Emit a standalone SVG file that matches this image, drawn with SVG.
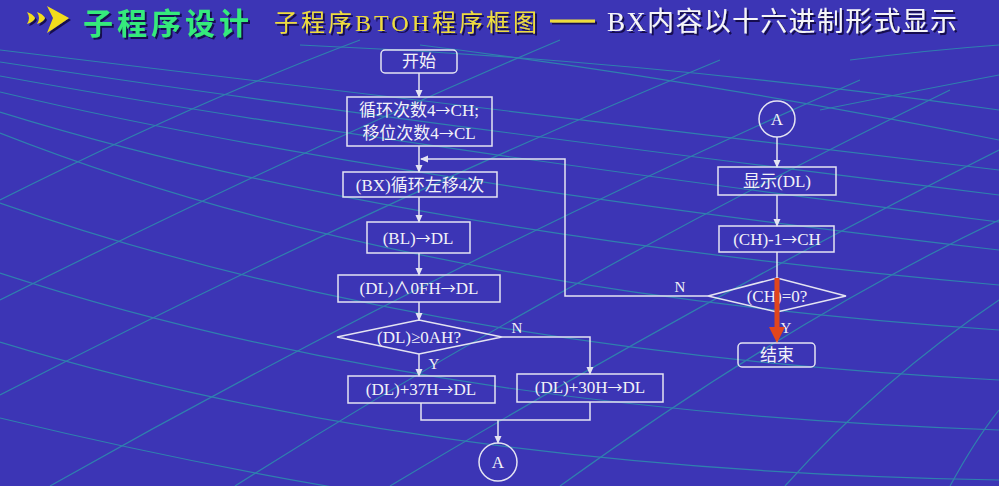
<svg xmlns="http://www.w3.org/2000/svg" width="999" height="486" viewBox="0 0 999 486">
<defs>
<style>
.bx{fill:none;stroke:#e4e4f2;stroke-width:1.5}
.ln{fill:none;stroke:#e4e4f2;stroke-width:1.5}
.t{font-family:"Liberation Serif","Noto Sans CJK SC",serif;font-size:17px;fill:#f2f2f8;text-anchor:middle}
.ar{font-family:"Noto Sans CJK SC",sans-serif;font-size:15px}
.lb{font-family:"Liberation Serif","Noto Sans CJK SC",serif;font-size:15px;fill:#f2f2f8;text-anchor:middle}
.g{fill:none;stroke:#2f80ae;stroke-width:1.2}
</style>
<filter id="sh" x="-5%" y="-20%" width="110%" height="150%">
<feDropShadow dx="2" dy="2" stdDeviation="0.6" flood-color="#141050" flood-opacity="1"/>
</filter>
<marker id="ah" markerWidth="8" markerHeight="8" refX="7" refY="4" orient="auto" markerUnits="userSpaceOnUse">
<path d="M0,0.5 L8,4 L0,7.5 z" fill="#e4e4f2"/>
</marker>
</defs>
<rect width="999" height="486" fill="#3c35b5"/>
<g id="mesh">
<path class="g" d="M0,50 Q350,90 999,170"/>
<path class="g" d="M0,62 Q350,115 999,195"/>
<path class="g" d="M0,76 Q350,140 999,222"/>
<path class="g" d="M0,92 Q350,175 999,250"/>
<path class="g" d="M0,112 Q380,230 999,285"/>
<path class="g" d="M0,133 Q400,290 999,330"/>
<path class="g" d="M0,203 Q420,350 999,380"/>
<path class="g" d="M0,273 Q420,410 999,430"/>
<path class="g" d="M0,342 Q420,470 999,480"/>
<path class="g" d="M0,418 Q300,490 560,520"/>
<path class="g" d="M300,45 Q650,60 999,110"/>
<path class="g" d="M420,45 Q700,80 999,140"/>
<path class="g" d="M0,200 Q200,100 360,40"/>
<path class="g" d="M0,300 Q300,150 560,40"/>
<path class="g" d="M0,395 Q380,200 720,60"/>
<path class="g" d="M50,486 Q450,260 860,80"/>
<path class="g" d="M235,486 Q560,280 950,90"/>
<path class="g" d="M390,486 Q700,300 999,150"/>
<path class="g" d="M560,486 Q790,320 999,220"/>
<path class="g" d="M785,486 Q880,380 999,300"/>
<path class="g" d="M950,486 Q975,440 999,410"/>
<path class="g" d="M850,60 Q930,50 999,45"/>
<path class="g" d="M820,110 Q920,90 999,75"/>
</g>
<g id="title" filter="url(#sh)">
<path d="M27,12 Q33,14 35,18 Q33,22 27,24 Q31,18 27,12 z" fill="#f2dc1e"/>
<path d="M37,12 Q43,14 45,18 Q43,22 37,24 Q41,18 37,12 z" fill="#f2dc1e"/>
<path d="M47,6 L69,18 L47,33 L53,18 z" fill="#f2dc1e"/>
<text x="83" y="34" font-family="Noto Sans CJK SC, sans-serif" font-size="30" font-weight="bold" fill="#36ea7c" textLength="166">子程序设计</text>
<text x="274" y="31" font-family="Liberation Serif, Noto Sans CJK SC, serif" font-size="24" fill="#eedc3c" textLength="263">子程序BTOH程序框图</text>
<line x1="550" y1="21" x2="595" y2="21" stroke="#eedc3c" stroke-width="3"/>
<text x="607" y="31" font-family="Liberation Serif, Noto Sans CJK SC, serif" font-size="27" fill="#f5f5f8" textLength="350">BX内容以十六进制形式显示</text>
</g>
<g id="connectors">
<line class="ln" x1="419" y1="73" x2="419" y2="97" marker-end="url(#ah)"/>
<line class="ln" x1="419" y1="146" x2="419" y2="172" marker-end="url(#ah)"/>
<path class="ln" d="M708,296 H565 V159 H421" marker-end="url(#ah)"/>
<line class="ln" x1="419" y1="197" x2="419" y2="222" marker-end="url(#ah)"/>
<line class="ln" x1="419" y1="253" x2="419" y2="275" marker-end="url(#ah)"/>
<line class="ln" x1="419" y1="302" x2="419" y2="320" marker-end="url(#ah)"/>
<line class="ln" x1="419" y1="354" x2="419" y2="376" marker-end="url(#ah)"/>
<path class="ln" d="M502,337 H590 V374" marker-end="url(#ah)"/>
<path class="ln" d="M421,403 V420 H590 V402"/>
<line class="ln" x1="498" y1="420" x2="498" y2="443" marker-end="url(#ah)"/>
<line class="ln" x1="777" y1="137" x2="777" y2="167" marker-end="url(#ah)"/>
<line class="ln" x1="777" y1="195" x2="777" y2="226" marker-end="url(#ah)"/>
<line class="ln" x1="777" y1="252" x2="777" y2="278"/>
<line class="ln" x1="777" y1="312" x2="777" y2="343"/>
<text class="lb" x="517" y="333">N</text>
<text class="lb" x="434" y="369">Y</text>
<text class="lb" x="680" y="292">N</text>
<text class="lb" x="786" y="333">Y</text>
</g>
<g id="n-start"><rect class="bx" x="381" y="50" width="76" height="23" rx="4"/><text class="t" x="419" y="67">开始</text></g>
<g id="n-init"><rect class="bx" x="347" y="97" width="145" height="49"/><text class="t" x="419" y="116">循环次数4<tspan class="ar">→</tspan>CH;</text><text class="t" x="419" y="139">移位次数4<tspan class="ar">→</tspan>CL</text></g>
<g id="n-rot"><rect class="bx" x="343" y="172" width="154" height="25"/><text class="t" x="420" y="191">(BX)循环左移4次</text></g>
<g id="n-bl"><rect class="bx" x="367" y="222" width="103" height="31"/><text class="t" x="418" y="244">(BL)<tspan class="ar">→</tspan>DL</text></g>
<g id="n-and"><rect class="bx" x="338" y="275" width="162" height="27"/><text class="t" x="419" y="294">(DL)∧0FH<tspan class="ar">→</tspan>DL</text></g>
<g id="n-cmp"><polygon class="bx" points="337,337 419,320 502,337 419,354"/><text class="t" x="419" y="343">(DL)≥0AH?</text></g>
<g id="n-add37"><rect class="bx" x="348" y="376" width="147" height="27"/><text class="t" x="421" y="395">(DL)+37H<tspan class="ar">→</tspan>DL</text></g>
<g id="n-add30"><rect class="bx" x="517" y="374" width="146" height="28"/><text class="t" x="590" y="393">(DL)+30H<tspan class="ar">→</tspan>DL</text></g>
<g id="n-a1"><circle class="bx" cx="498" cy="462" r="19"/><text class="t" x="498" y="468">A</text></g>
<g id="n-a2"><circle class="bx" cx="777" cy="119" r="18"/><text class="t" x="777" y="125">A</text></g>
<g id="n-disp"><rect class="bx" x="718" y="167" width="118" height="28"/><text class="t" x="777" y="187">显示(DL)</text></g>
<g id="n-dec"><rect class="bx" x="719" y="226" width="115" height="26"/><text class="t" x="777" y="245">(CH)-1<tspan class="ar">→</tspan>CH</text></g>
<g id="n-test"><polygon class="bx" points="708,296 777,278 846,296 777,312"/><text class="t" x="777" y="302">(CH)=0?</text></g>
<g id="n-end"><rect class="bx" x="738" y="343" width="77" height="24" rx="4"/><text class="t" x="777" y="361">结束</text></g>
<g id="highlight">
<rect x="774.5" y="278" width="5" height="50" fill="#e2461c"/>
<path d="M769,327 L785,327 L777,343 z" fill="#e2461c"/>
</g>
</svg>
